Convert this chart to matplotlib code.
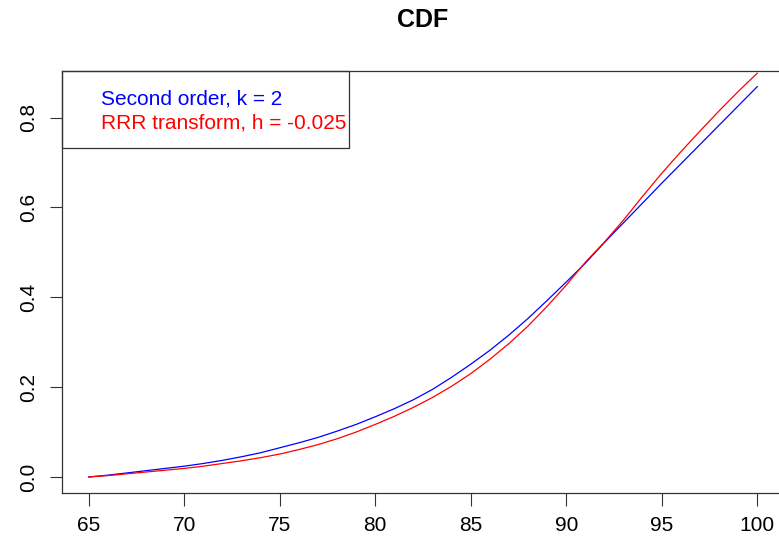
import matplotlib
matplotlib.use('Agg')
import matplotlib.pyplot as plt
from matplotlib.patches import Rectangle

plt.rcParams['font.family'] = ['Liberation Sans', 'DejaVu Sans']

x = list(range(65, 101))
second_order = [0.000, 0.004, 0.009, 0.014, 0.019, 0.024, 0.030, 0.037, 0.045, 0.054,
                0.065, 0.076, 0.088, 0.102, 0.117, 0.134, 0.152, 0.172, 0.195, 0.222,
                0.251, 0.282, 0.316, 0.353, 0.393, 0.434, 0.476, 0.522, 0.566, 0.610,
                0.654, 0.697, 0.740, 0.783, 0.826, 0.869]
rrr = [0.000, 0.003, 0.007, 0.011, 0.015, 0.019, 0.024, 0.030, 0.036, 0.043,
       0.051, 0.061, 0.072, 0.085, 0.100, 0.117, 0.135, 0.155, 0.177, 0.202,
       0.230, 0.262, 0.297, 0.336, 0.380, 0.427, 0.478, 0.523, 0.572, 0.625,
       0.676, 0.724, 0.770, 0.815, 0.858, 0.899]
labels = ['Second order, k = 2', 'RRR transform, h = -0.025']
xticks = [65, 70, 75, 80, 85, 90, 95, 100]
yticks = [0.0, 0.2, 0.4, 0.6, 0.8]

fig = plt.figure(figsize=(7.79, 5.48), dpi=100)
ax = fig.add_axes([62/779, 1 - 492.6/548, 722/779, 421.6/548])

ax.plot(x, second_order, color='#0000ff', lw=0.9)
ax.plot(x, rrr, color='#ff0000', lw=0.9)

ax.set_xlim(63.6, 101.4)
ax.set_ylim(-0.0348, 0.9038)
ax.set_xticks(xticks)
ax.set_xticklabels([str(t) for t in xticks])
ax.set_yticks(yticks)
ax.set_yticklabels(['%.1f' % t for t in yticks], rotation=90, va='center')
ax.tick_params(labelsize=15, length=9, width=0.8, color='#333333', pad=8)
for s in ax.spines.values():
    s.set_color('#333333')
    s.set_linewidth(0.9)

ax.set_title('CDF', fontsize=18, fontweight='bold', pad=32)

# legend box, R style
ax.add_patch(Rectangle((0, 0.8174), 0.3975, 0.1826, transform=ax.transAxes,
                       fill=False, edgecolor='#333333', lw=0.9, clip_on=False))
ax.text(0.054, 0.9336, labels[0], color='#0000ff', fontsize=15,
        transform=ax.transAxes, va='center')
ax.text(0.054, 0.8767, labels[1], color='#ff0000', fontsize=15,
        transform=ax.transAxes, va='center')

fig.savefig('out.png', dpi=100)
